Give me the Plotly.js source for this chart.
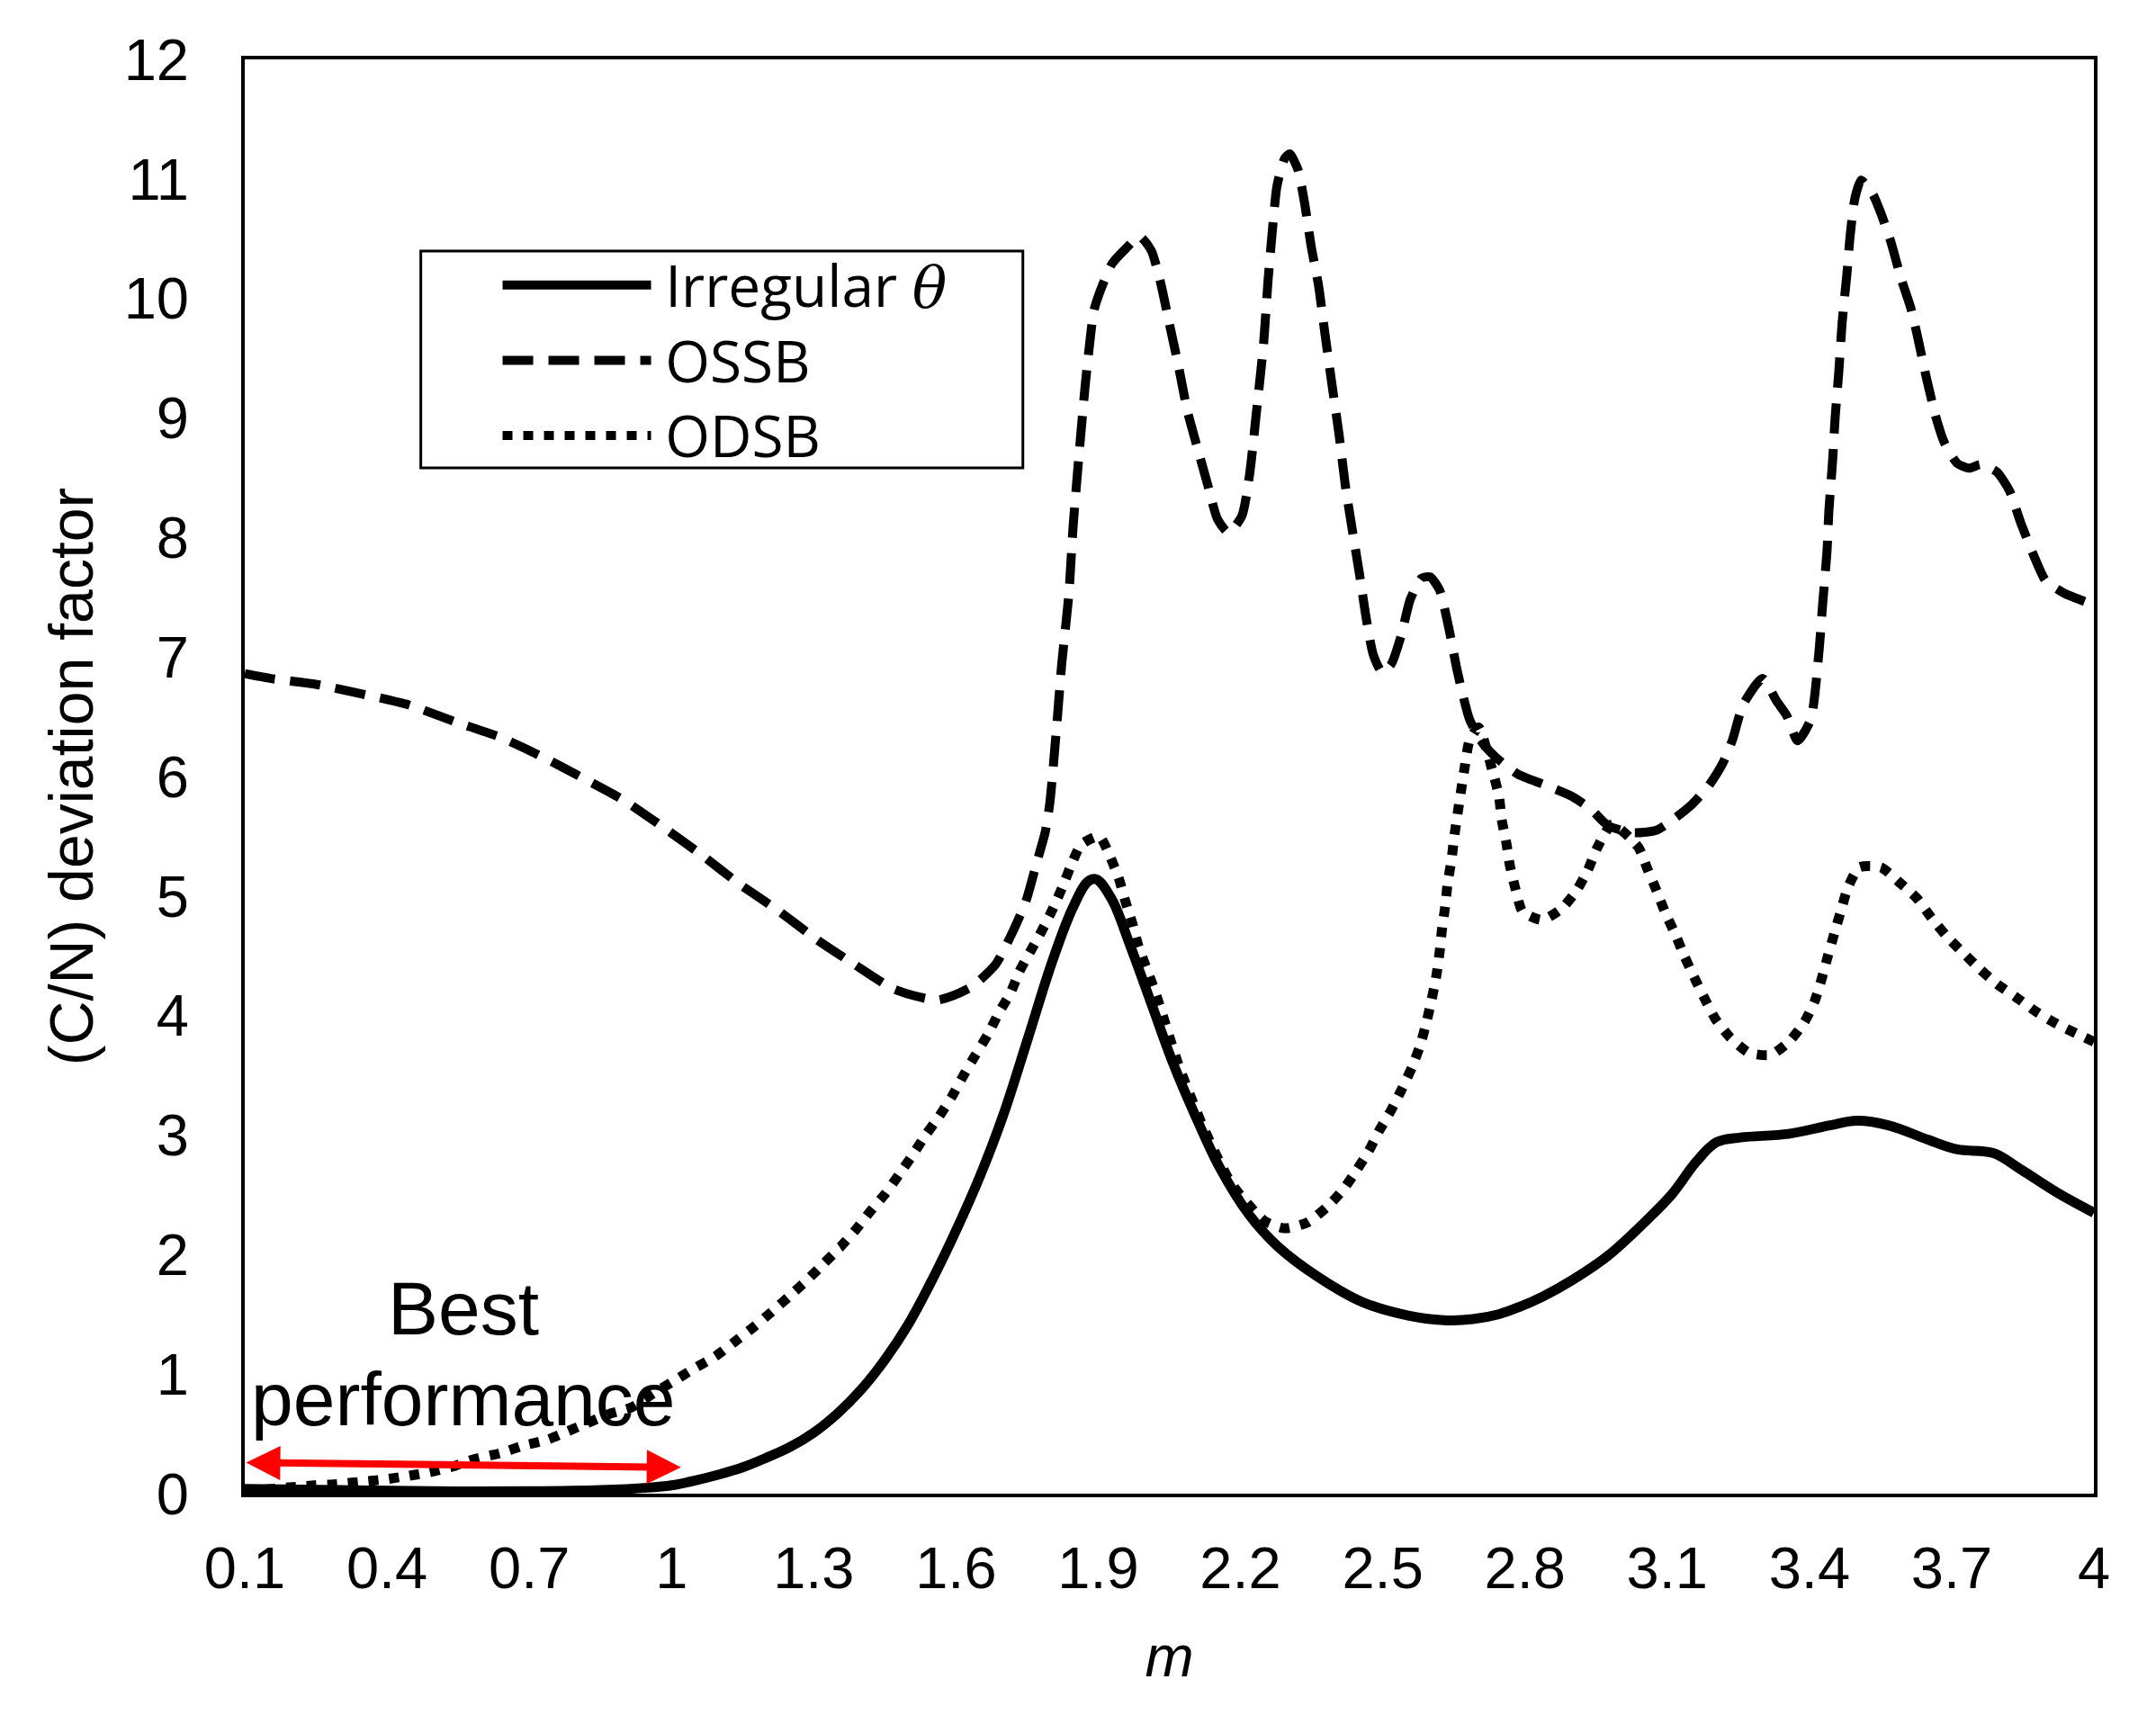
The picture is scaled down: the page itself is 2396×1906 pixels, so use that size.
<!DOCTYPE html>
<html>
<head>
<meta charset="utf-8">
<script src="https://cdn.plot.ly/plotly-3.0.1.min.js"></script>
<style>
  html, body { margin: 0; padding: 0; background: #fff; }
  #chart { width: 2396px; height: 1906px; }
</style>
</head>
<body>
<div id="chart"></div>
<script>
// values
var irregX = [0.1, 0.3, 0.5, 0.7, 0.85, 0.95, 1.0, 1.05, 1.1, 1.15, 1.2, 1.25, 1.3, 1.35, 1.4, 1.45, 1.5, 1.55, 1.6, 1.65, 1.7, 1.751, 1.802, 1.845, 1.878, 1.896, 1.929, 1.967, 2.013, 2.058, 2.105, 2.156, 2.219, 2.281, 2.365, 2.459, 2.554, 2.636, 2.69, 2.744, 2.79, 2.838, 2.901, 2.975, 3.06, 3.111, 3.162, 3.204, 3.255, 3.356, 3.441, 3.5, 3.568, 3.651, 3.712, 3.788, 3.847, 3.922, 4.0];
var irregY = [0.04, 0.03, 0.02, 0.02, 0.03, 0.05, 0.07, 0.11, 0.16, 0.22, 0.3, 0.39, 0.51, 0.67, 0.87, 1.12, 1.42, 1.79, 2.2, 2.65, 3.17, 3.8, 4.44, 4.89, 5.12, 5.14, 4.97, 4.59, 4.09, 3.6, 3.16, 2.73, 2.33, 2.06, 1.81, 1.6, 1.49, 1.45, 1.46, 1.5, 1.565, 1.65, 1.79, 1.99, 2.3, 2.51, 2.78, 2.94, 2.98, 3.01, 3.08, 3.12, 3.08, 2.96, 2.88, 2.85, 2.71, 2.52, 2.35];

var ossbX = [0.1, 0.155, 0.252, 0.348, 0.445, 0.542, 0.638, 0.725, 0.812, 0.9, 0.981, 1.065, 1.14, 1.228, 1.305, 1.389, 1.47, 1.561, 1.633, 1.684, 1.716, 1.747, 1.771, 1.788, 1.798, 1.813, 1.823, 1.838, 1.847, 1.859, 1.872, 1.881, 1.891, 1.904, 1.929, 1.959, 1.987, 2.012, 2.031, 2.05, 2.069, 2.088, 2.112, 2.131, 2.152, 2.175, 2.203, 2.219, 2.234, 2.249, 2.258, 2.268, 2.277, 2.293, 2.304, 2.321, 2.336, 2.349, 2.365, 2.378, 2.393, 2.408, 2.421, 2.436, 2.452, 2.465, 2.48, 2.499, 2.518, 2.539, 2.558, 2.582, 2.6, 2.62, 2.639, 2.658, 2.683, 2.707, 2.736, 2.785, 2.842, 2.901, 2.941, 2.975, 3.026, 3.077, 3.119, 3.153, 3.187, 3.217, 3.238, 3.26, 3.301, 3.331, 3.352, 3.375, 3.403, 3.42, 3.428, 3.437, 3.441, 3.449, 3.454, 3.462, 3.469, 3.479, 3.486, 3.496, 3.509, 3.534, 3.551, 3.572, 3.593, 3.613, 3.627, 3.647, 3.668, 3.685, 3.712, 3.737, 3.761, 3.795, 3.822, 3.846, 3.873, 3.898, 3.939, 3.99, 4.0];
var ossbY = [6.86, 6.82, 6.77, 6.69, 6.6, 6.46, 6.33, 6.17, 5.99, 5.8, 5.58, 5.34, 5.11, 4.87, 4.64, 4.42, 4.22, 4.13, 4.24, 4.43, 4.67, 4.95, 5.29, 5.53, 5.78, 6.45, 6.94, 7.52, 8.09, 8.67, 9.25, 9.59, 9.9, 10.06, 10.29, 10.42, 10.52, 10.4, 10.14, 9.79, 9.44, 9.06, 8.71, 8.44, 8.15, 8.04, 8.18, 8.52, 9.06, 9.63, 10.14, 10.6, 10.94, 11.17, 11.21, 11.08, 10.78, 10.44, 10.1, 9.71, 9.28, 8.86, 8.44, 8.06, 7.67, 7.33, 7.02, 6.87, 6.94, 7.18, 7.48, 7.66, 7.67, 7.56, 7.25, 6.87, 6.48, 6.3, 6.17, 6.02, 5.93, 5.83, 5.72, 5.59, 5.53, 5.55, 5.66, 5.77, 5.92, 6.11, 6.31, 6.6, 6.82, 6.63, 6.51, 6.3, 6.48, 7.04, 7.45, 7.88, 8.22, 8.65, 8.99, 9.39, 9.8, 10.2, 10.53, 10.84, 10.99, 10.87, 10.71, 10.47, 10.17, 9.93, 9.7, 9.33, 8.99, 8.79, 8.62, 8.58, 8.61, 8.55, 8.39, 8.12, 7.85, 7.64, 7.53, 7.45, 7.43];

var odsbX = [0.1, 0.248, 0.295, 0.346, 0.396, 0.447, 0.49, 0.541, 0.585, 0.64, 0.686, 0.737, 0.78, 0.828, 0.871, 0.915, 0.962, 1.008, 1.049, 1.093, 1.133, 1.172, 1.211, 1.248, 1.284, 1.32, 1.355, 1.389, 1.419, 1.451, 1.48, 1.508, 1.536, 1.565, 1.591, 1.616, 1.641, 1.667, 1.69, 1.715, 1.734, 1.756, 1.781, 1.804, 1.825, 1.842, 1.864, 1.902, 1.925, 1.944, 1.957, 1.972, 1.985, 2.02, 2.07, 2.12, 2.18, 2.251, 2.294, 2.342, 2.383, 2.416, 2.444, 2.471, 2.493, 2.518, 2.541, 2.562, 2.579, 2.592, 2.603, 2.613, 2.62, 2.625, 2.632, 2.637, 2.645, 2.651, 2.658, 2.666, 2.673, 2.683, 2.702, 2.732, 2.745, 2.751, 2.761, 2.768, 2.78, 2.795, 2.835, 2.876, 2.908, 2.933, 2.952, 2.984, 3.039, 3.058, 3.077, 3.096, 3.117, 3.136, 3.157, 3.178, 3.202, 3.232, 3.272, 3.318, 3.359, 3.39, 3.411, 3.426, 3.439, 3.452, 3.466, 3.481, 3.505, 3.551, 3.591, 3.627, 3.657, 3.688, 3.723, 3.759, 3.797, 3.837, 3.879, 3.922, 3.968, 4.0];
var odsbY = [0.02, 0.07, 0.08, 0.1, 0.12, 0.15, 0.18, 0.23, 0.29, 0.34, 0.4, 0.45, 0.52, 0.6, 0.67, 0.72, 0.84, 0.95, 1.05, 1.15, 1.27, 1.39, 1.52, 1.65, 1.78, 1.92, 2.06, 2.21, 2.36, 2.51, 2.67, 2.83, 3.0, 3.16, 3.32, 3.5, 3.67, 3.84, 4.02, 4.19, 4.37, 4.53, 4.71, 4.89, 5.08, 5.25, 5.43, 5.5, 5.33, 5.14, 4.96, 4.77, 4.58, 4.2, 3.58, 3.08, 2.6, 2.28, 2.22, 2.27, 2.4, 2.54, 2.7, 2.87, 3.04, 3.21, 3.39, 3.57, 3.75, 3.94, 4.13, 4.33, 4.53, 4.72, 4.92, 5.11, 5.3, 5.5, 5.69, 5.9, 6.08, 6.3, 6.41, 6.04, 5.84, 5.64, 5.44, 5.26, 5.06, 4.87, 4.8, 4.89, 5.04, 5.22, 5.4, 5.6, 5.41, 5.23, 5.05, 4.86, 4.68, 4.5, 4.32, 4.15, 3.97, 3.82, 3.69, 3.67, 3.79, 3.95, 4.12, 4.31, 4.5, 4.68, 4.87, 5.07, 5.24, 5.24, 5.11, 4.98, 4.82, 4.67, 4.53, 4.39, 4.26, 4.15, 4.03, 3.93, 3.84, 3.78];

var seriesNames = [
  '<span style="font-size:64px">\u2009Irregular <span style="font-family:\'DejaVu Serif\';font-style:italic">θ</span></span>',
  '<span style="font-size:64px">\u2009OSSB</span>',
  '<span style="font-size:64px">\u2009ODSB</span>'
];
var xTickVals = [0.1, 0.4, 0.7, 1, 1.3, 1.6, 1.9, 2.2, 2.5, 2.8, 3.1, 3.4, 3.7, 4];
var xTickText = ['0.1', '0.4', '0.7', '1', '1.3', '1.6', '1.9', '2.2', '2.5', '2.8', '3.1', '3.4', '3.7', '4'];
var yTickVals = [0, 1, 2, 3, 4, 5, 6, 7, 8, 9, 10, 11, 12];

// "best performance" band, m from 0.1 to 1
var bestRangeX = [0.1, 1.02];
var bestRangeY = [0.26, 0.22];

var axisFont = { family: 'Liberation Sans, Arial, sans-serif', size: 65, color: '#000' };
var noteFont = { family: 'Liberation Sans, Arial, sans-serif', size: 84, color: '#000' };

var traces = [
  { type: 'scatter', mode: 'lines', name: seriesNames[0], x: irregX, y: irregY,
    line: { color: '#000', width: 11, shape: 'spline', smoothing: 1 } },
  { type: 'scatter', mode: 'lines', name: seriesNames[1], x: ossbX, y: ossbY,
    line: { color: '#000', width: 10, dash: '34px,17px', shape: 'spline', smoothing: 0.6 } },
  { type: 'scatter', mode: 'lines', name: seriesNames[2], x: odsbX, y: odsbY,
    line: { color: '#000', width: 11, dash: '11px,12px', shape: 'spline', smoothing: 0.6 } }
];

var layout = {
  width: 2396,
  height: 1906,
  paper_bgcolor: '#fff',
  plot_bgcolor: '#fff',
  margin: { l: 272, r: 69, t: 66, b: 246 },
  font: axisFont,
  showlegend: true,
  legend: {
    x: 0.137, xanchor: 'left',
    y: 0.872, yanchor: 'top',
    bgcolor: 'rgba(0,0,0,0)',
    borderwidth: 0,
    itemwidth: 165,
    font: { family: 'Open Sans, Lato, sans-serif', size: 62, color: '#000' }
  },
  xaxis: {
    range: [0.1, 4],
    tickvals: xTickVals,
    ticktext: xTickText,
    ticks: '',
    showgrid: false,
    zeroline: false,
    showline: true,
    mirror: true,
    linecolor: '#000',
    linewidth: 4,
    ticklabelstandoff: 23,
    tickfont: axisFont,
    title: { text: '<i>m</i>', font: axisFont, standoff: 40 }
  },
  yaxis: {
    range: [0, 12],
    tickvals: yTickVals,
    ticks: '',
    showgrid: false,
    zeroline: false,
    showline: true,
    mirror: true,
    linecolor: '#000',
    linewidth: 4,
    ticklabelstandoff: 45,
    tickfont: axisFont,
    title: { text: '(C/N) deviation factor', font: { family: axisFont.family, size: 68, color: '#000' }, standoff: 13 }
  },
  shapes: [
    // legend frame
    { type: 'rect', xref: 'paper', yref: 'paper', x0: 0.0952, x1: 0.4208, y0: 0.7152, y1: 0.8664,
      line: { color: '#000', width: 3 }, fillcolor: 'rgba(0,0,0,0)' }
  ],
  annotations: [
    { x: 0.562, y: 1.55, xref: 'x', yref: 'y', text: 'Best', showarrow: false, font: noteFont },
    { x: 0.562, y: 0.79, xref: 'x', yref: 'y', text: 'performance', showarrow: false, font: noteFont },
    { x: bestRangeX[1], y: bestRangeY[1], ax: bestRangeX[0], ay: bestRangeY[0],
      xref: 'x', yref: 'y', axref: 'x', ayref: 'y', text: '',
      showarrow: true, arrowside: 'end+start', arrowcolor: '#ff0000', arrowwidth: 8,
      arrowhead: 2, startarrowhead: 2, arrowsize: 0.95, startarrowsize: 0.95, standoff: 0, startstandoff: 0 }
  ]
};

Plotly.newPlot('chart', traces, layout, { displayModeBar: false, staticPlot: true });
</script>
</body>
</html>
